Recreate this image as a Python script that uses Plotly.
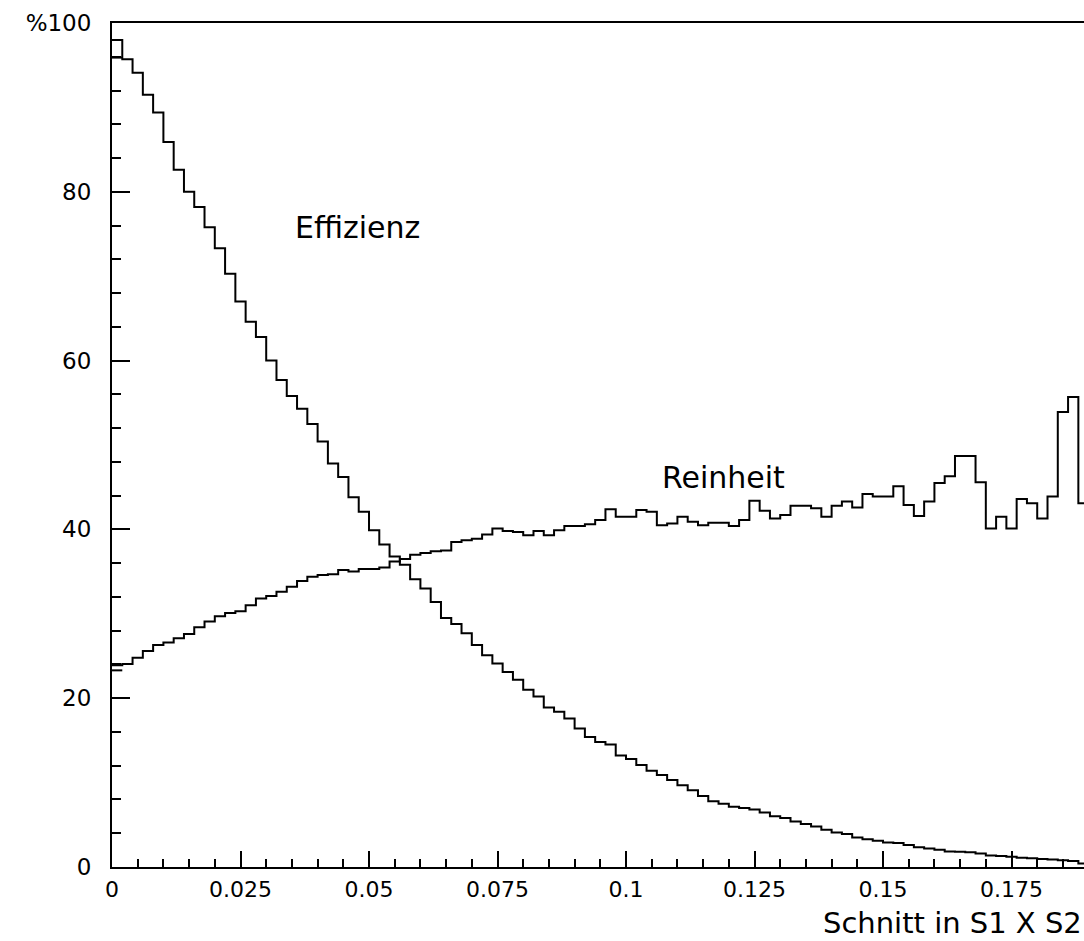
import plotly.graph_objects as go

# ---------------- data ----------------
bin_width = 0.002
effizienz = [98.0, 95.7, 94.1, 91.5, 89.4, 85.9, 82.6, 80.0, 78.2, 75.8,
             73.3, 70.3, 67.0, 64.6, 62.8, 60.0, 57.7, 55.8, 54.3, 52.5,
             50.4, 47.8, 46.2, 43.8, 42.1, 39.9, 38.2, 36.8, 35.8, 34.1,
             33.0, 31.4, 29.5, 28.8, 27.7, 26.3, 25.1, 24.1, 23.1, 22.2,
             21.0, 20.2, 18.9, 18.4, 17.6, 16.4, 15.4, 14.8, 14.5, 13.2,
             12.8, 12.1, 11.4, 10.9, 10.3, 9.7, 9.1, 8.4, 7.8, 7.5,
             7.15, 7.0, 6.8, 6.45, 6.0, 5.8, 5.4, 5.1, 4.8, 4.4,
             4.1, 3.9, 3.5, 3.3, 3.1, 2.9, 2.85, 2.6, 2.35, 2.2,
             2.05, 1.85, 1.8, 1.75, 1.6, 1.35, 1.3, 1.2, 1.1, 1.05,
             0.95, 0.9, 0.8, 0.7, 0.4]
effizienz_first_low = 95.9

reinheit = [23.9, 24.05, 24.8, 25.6, 26.3, 26.6, 27.1, 27.6, 28.4, 29.1,
            29.7, 30.1, 30.3, 31.0, 31.8, 32.1, 32.6, 33.2, 33.9, 34.4,
            34.6, 34.7, 35.2, 35.0, 35.3, 35.3, 35.5, 36.2, 36.5, 37.0,
            37.2, 37.4, 37.5, 38.5, 38.7, 38.9, 39.4, 40.1, 39.8, 39.7,
            39.3, 39.8, 39.3, 39.9, 40.4, 40.4, 40.6, 41.1, 42.4, 41.5,
            41.5, 42.3, 42.1, 40.5, 40.7, 41.5, 40.9, 40.5, 40.8, 40.8,
            40.4, 41.1, 43.4, 42.2, 41.3, 41.7, 42.8, 42.8, 42.5, 41.5,
            42.8, 43.3, 42.6, 44.2, 43.9, 43.9, 45.1, 42.9, 41.6, 43.3,
            45.5, 46.3, 48.7, 48.7, 45.6, 40.1, 41.5, 40.1, 43.6, 43.1,
            41.3, 43.9, 53.9, 55.7, 43.1]
reinheit_first_low = 23.3

x_tick_vals = [0, 0.025, 0.05, 0.075, 0.1, 0.125, 0.15, 0.175]
x_tick_text = ["0", "0.025", "0.05", "0.075", "0.1", "0.125", "0.15", "0.175"]
y_tick_vals = [0, 20, 40, 60, 80, 100]
y_tick_text = ["0", "20", "40", "60", "80", "%100"]

x_max = 0.1891
FONT = "DejaVu Sans"

fig = go.Figure()


def add_hist(values, first_low):
    edges = [i * bin_width for i in range(len(values) + 1)]
    ys = list(values) + [values[-1]]
    fig.add_trace(go.Scatter(x=edges, y=ys, mode="lines", line_shape="hv",
                             line=dict(color="black", width=2),
                             hoverinfo="skip"))
    # small box drawn in the first bin
    fig.add_trace(go.Scatter(x=[edges[0], edges[1]], y=[first_low, first_low],
                             mode="lines", line=dict(color="black", width=2),
                             hoverinfo="skip"))


add_hist(effizienz, effizienz_first_low)
add_hist(reinheit, reinheit_first_low)

fig.add_annotation(x=0.0352, y=75.8, xref="x", yref="y", text="Effizienz",
                   showarrow=False, xanchor="left", yanchor="middle",
                   font=dict(family=FONT, size=30, color="black"))
fig.add_annotation(x=0.1066, y=46.2, xref="x", yref="y", text="Reinheit",
                   showarrow=False, xanchor="left", yanchor="middle",
                   font=dict(family=FONT, size=30, color="black"))
fig.add_annotation(x=1.0, y=-0.066, xref="paper", yref="paper",
                   text="Schnitt in S1 X S2", showarrow=False,
                   xanchor="right", yanchor="middle",
                   font=dict(family=FONT, size=29, color="black"))

fig.update_layout(
    width=1084, height=941,
    margin=dict(l=112, r=0, t=23, b=74),
    plot_bgcolor="white", paper_bgcolor="white",
    showlegend=False,
    font=dict(family=FONT, color="black"),
    xaxis=dict(range=[0, x_max], showline=True, linecolor="black", linewidth=2,
               mirror=True, ticks="inside", ticklen=16, tickwidth=1.5,
               tickcolor="black", tickvals=x_tick_vals, ticktext=x_tick_text,
               showgrid=False, zeroline=False, ticklabelstandoff=2,
               tickfont=dict(family=FONT, size=22, color="black"),
               minor=dict(dtick=0.005, tick0=0, ticks="inside", ticklen=8,
                          tickwidth=1.5, tickcolor="black", showgrid=False)),
    yaxis=dict(range=[0, 100], showline=True, linecolor="black", linewidth=2,
               ticks="inside", ticklen=18, tickwidth=1.5, tickcolor="black",
               tickvals=y_tick_vals, ticktext=y_tick_text,
               showgrid=False, zeroline=False, ticklabelstandoff=14,
               tickfont=dict(family=FONT, size=23, color="black"),
               minor=dict(dtick=4, tick0=0, ticks="inside", ticklen=9,
                          tickwidth=1.5, tickcolor="black", showgrid=False)),
)

fig.write_html("out.html")
